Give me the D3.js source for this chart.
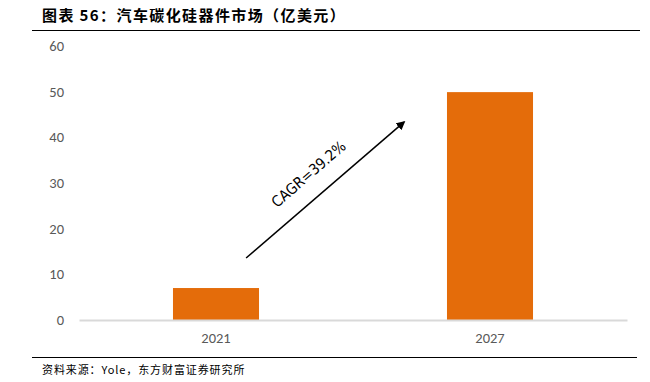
<!DOCTYPE html>
<html>
<head>
<meta charset="utf-8">
<script src="https://cdn.jsdelivr.net/npm/d3@7"></script>
<style>
  body { margin: 0; background: #fff; }
  svg { display: block; }
</style>
</head>
<body>
<svg id="chart" width="650" height="382"></svg>
<script>
const YEARS = ['2021', '2027'];
const MARKET = [7.0, 49.9];
const Y_TICKS = [0, 10, 20, 30, 40, 50, 60];
const TITLE = '图表 56：汽车碳化硅器件市场（亿美元）';
const SOURCE = '资料来源：Yole，东方财富证券研究所';
const CAGR_LABEL = 'CAGR=39.2%';

const M = { left: 79, right: 627, top: 46, bottom: 320 };

const svg = d3.select('#chart');

const x = d3.scaleBand()
  .domain(YEARS)
  .range([M.left, M.right])
  .paddingInner(0.686)
  .paddingOuter(0.343);

const y = d3.scaleLinear()
  .domain([0, 60])
  .range([M.bottom, M.top]);

// title + rule
svg.append('text')
  .attr('x', 42).attr('y', 21)
  .attr('font-family', '"Noto Sans CJK SC", sans-serif')
  .attr('font-weight', 'bold')
  .attr('font-size', 15)
  .attr('letter-spacing', 1.4)
  .attr('fill', '#000')
  .text(TITLE);

svg.append('line')
  .attr('x1', 32).attr('x2', 640)
  .attr('y1', 30.5).attr('y2', 30.5)
  .attr('stroke', '#000').attr('stroke-width', 1);

// y axis labels
const yAxis = d3.axisLeft(y).tickValues(Y_TICKS).tickSize(0).tickPadding(15);
const gy = svg.append('g')
  .attr('transform', `translate(${M.left},0)`)
  .call(yAxis);
gy.select('.domain').remove();
gy.selectAll('text')
  .attr('font-family', 'Carlito, Calibri, "Liberation Sans", sans-serif')
  .attr('font-size', 14.5)
  .attr('fill', '#595959');

// bars
svg.selectAll('.bar')
  .data(YEARS)
  .enter()
  .append('rect')
  .attr('class', 'bar')
  .attr('x', d => x(d))
  .attr('width', x.bandwidth())
  .attr('y', (d, i) => y(MARKET[i]))
  .attr('height', (d, i) => y(0) - y(MARKET[i]))
  .attr('fill', '#e46c0a');

// x axis
const xAxis = d3.axisBottom(x).tickSize(0).tickPadding(13);
const gx = svg.append('g')
  .attr('transform', `translate(0,${M.bottom})`)
  .call(xAxis);
gx.select('.domain')
  .attr('stroke', '#d9d9d9')
  .attr('stroke-width', 2);
gx.selectAll('text')
  .attr('font-family', 'Carlito, Calibri, "Liberation Sans", sans-serif')
  .attr('font-size', 14.5)
  .attr('fill', '#595959');

// CAGR arrow
const defs = svg.append('defs');
defs.append('marker')
  .attr('id', 'arrow')
  .attr('viewBox', '0 0 10 10')
  .attr('refX', 8).attr('refY', 5)
  .attr('markerWidth', 6).attr('markerHeight', 6)
  .attr('orient', 'auto')
  .append('path')
  .attr('d', 'M0,0 L10,5 L0,10 Z')
  .attr('fill', '#000');

const a0 = [x('2021') + x.bandwidth() * 0.85, y(MARKET[0]) - 30];
const a1 = [x('2027') - x.bandwidth() * 0.5, y(MARKET[1]) + 30];
svg.append('line')
  .attr('x1', a0[0]).attr('y1', a0[1])
  .attr('x2', a1[0]).attr('y2', a1[1])
  .attr('stroke', '#000').attr('stroke-width', 1.5)
  .attr('marker-end', 'url(#arrow)');

const ang = Math.atan2(a1[1] - a0[1], a1[0] - a0[0]) * 180 / Math.PI;
svg.append('text')
  .attr('transform', `translate(312,178) rotate(${ang})`)
  .attr('text-anchor', 'middle')
  .attr('font-family', '"DejaVu Sans Condensed", "Liberation Sans Narrow", sans-serif')
  .attr('font-size', 15)
  .attr('fill', '#000')
  .text(CAGR_LABEL);

// source rule + text
svg.append('line')
  .attr('x1', 32).attr('x2', 637)
  .attr('y1', 357.5).attr('y2', 357.5)
  .attr('stroke', '#000').attr('stroke-width', 1);

svg.append('text')
  .attr('x', 42).attr('y', 374)
  .attr('font-family', '"Noto Sans CJK SC", sans-serif')
  .attr('font-size', 11)
  .attr('letter-spacing', 0.9)
  .attr('fill', '#000')
  .text(SOURCE);
</script>
</body>
</html>
